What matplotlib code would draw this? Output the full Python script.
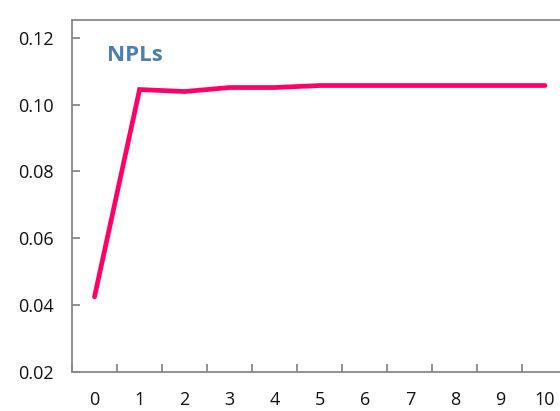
import matplotlib
matplotlib.use("Agg")
import matplotlib.pyplot as plt
import numpy as np

periods = list(range(11))
npl_ratio = [0.0425, 0.1045, 0.1039, 0.1051, 0.1051, 0.1057, 0.1057, 0.1057, 0.1057, 0.1057, 0.1057]
y_ticks = [0.02, 0.04, 0.06, 0.08, 0.10, 0.12]
series_name = "NPLs"

plt.rcParams["font.family"] = ["Open Sans", "DejaVu Sans"]

fig = plt.figure(figsize=(5.6, 4.11), dpi=100)
ax = fig.add_axes([72 / 560, 39 / 411, 495.5 / 560, 352 / 411])

ax.plot(periods, npl_ratio, color="#FF0066", linewidth=3.4, solid_capstyle="round", solid_joinstyle="miter")

ax.set_xlim(-0.5, 10.5)
ax.set_ylim(0.02, 0.1253)

ax.set_xticks(periods)
ax.set_xticks(np.arange(-0.5, 10.6, 1.0), minor=True)
ax.set_yticks(y_ticks)
ax.set_yticklabels([f"{v:.2f}" for v in y_ticks])

spine_color = "#888888"
for side in ["left", "bottom", "top"]:
    ax.spines[side].set_color(spine_color)
    ax.spines[side].set_linewidth(1.3)
ax.spines["right"].set_visible(False)

ax.tick_params(axis="x", which="major", length=0, pad=13.5, labelsize=13, labelcolor="#111111")
ax.tick_params(axis="x", which="minor", direction="in", length=6, width=1.3, color=spine_color)
ax.tick_params(axis="y", direction="in", length=6, width=1.3, color=spine_color, pad=13,
               labelsize=13, labelcolor="#111111")

ax.text(0.07, 0.9, series_name, transform=ax.transAxes, fontsize=16, fontweight="bold",
        color="#4A7FAE", ha="left", va="center")

fig.savefig("out.png", dpi=100)
